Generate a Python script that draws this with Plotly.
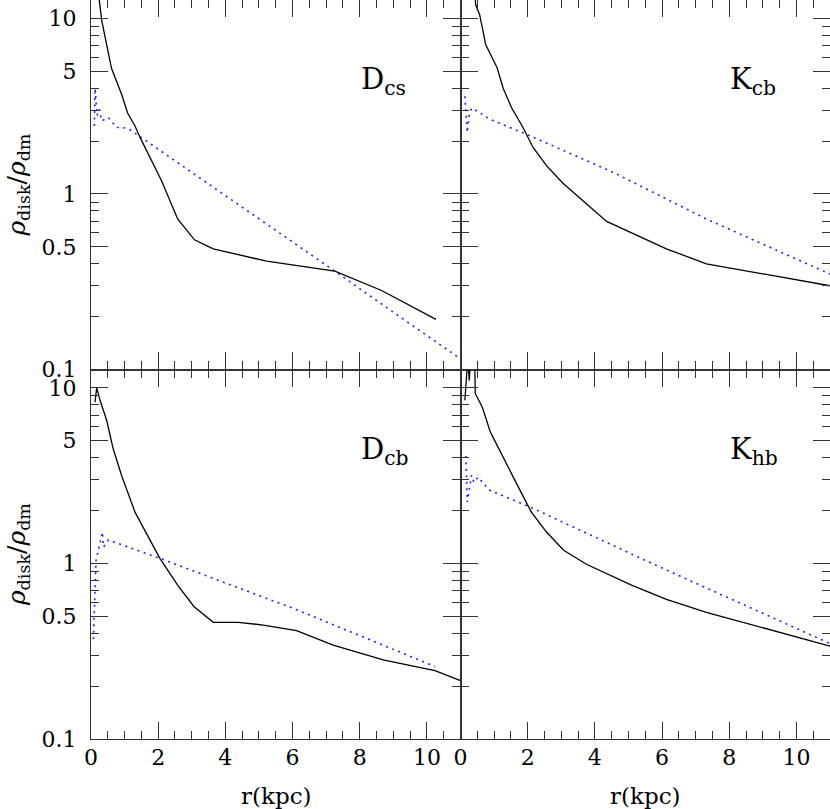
import numpy as np
import plotly.graph_objects as go
from plotly.subplots import make_subplots

# ---- data (r in kpc, rho_disk / rho_dm) ----
dcs_solid_r = [0.20, 0.32, 0.61, 0.76, 0.91, 1.09, 1.31, 1.46, 2.10, 2.58, 3.08, 3.64, 5.23, 7.26, 8.65, 10.27]
dcs_solid_v = [15.0, 9.7, 5.2, 4.4, 3.7, 2.89, 2.44, 2.10, 1.19, 0.72, 0.548, 0.487, 0.414, 0.363, 0.282, 0.193]
dcs_dot_r = [0.10, 0.12, 0.18, 0.25, 0.32, 0.52, 0.76, 0.91, 1.11, 3.0, 5.0, 7.26, 9.0, 11.0]
dcs_dot_v = [2.44, 4.0, 2.8, 3.04, 2.61, 2.72, 2.39, 2.39, 2.36, 1.33, 0.72, 0.363, 0.212, 0.115]

kcb_solid_r = [0.42, 0.45, 0.57, 0.75, 1.09, 1.27, 1.52, 1.86, 2.16, 2.56, 3.05, 3.65, 4.35, 6.13, 7.32, 11.0]
kcb_solid_v = [15.0, 12.0, 10.5, 7.1, 5.24, 4.0, 3.1, 2.39, 1.84, 1.45, 1.15, 0.908, 0.698, 0.487, 0.40, 0.30]
kcb_dot_r = [0.13, 0.20, 0.26, 0.33, 0.49, 0.87, 1.96, 4.54, 7.32, 11.0]
kcb_dot_v = [3.6, 2.24, 2.85, 3.08, 2.97, 2.67, 2.19, 1.33, 0.72, 0.35]

dcb_solid_r = [0.12, 0.17, 0.27, 0.47, 0.66, 0.91, 1.31, 2.05, 2.60, 3.07, 3.64, 4.38, 5.13, 6.12, 7.21, 8.70, 10.24, 11.0]
dcb_solid_v = [8.3, 10.0, 8.5, 6.5, 4.5, 3.17, 1.96, 1.07, 0.743, 0.567, 0.462, 0.462, 0.446, 0.414, 0.343, 0.282, 0.245, 0.215]
dcb_dot_r = [0.07, 0.15, 0.34, 0.37, 0.52, 2.05, 3.64, 6.02, 10.24]
dcb_dot_v = [0.37, 1.04, 1.51, 1.24, 1.36, 1.07, 0.822, 0.555, 0.259]

khb_solid_r = [0.13, 0.22, 0.26, 0.30, 0.42, 0.44, 0.65, 0.89, 1.67, 2.11, 2.56, 3.07, 3.75, 5.09, 6.13, 7.32, 11.0]
khb_solid_v = [8.5, 15.0, 11.0, 15.0, 15.0, 9.3, 7.76, 5.6, 2.85, 1.96, 1.51, 1.19, 0.99, 0.753, 0.624, 0.527, 0.338]
khb_dot_r = [0.16, 0.20, 0.33, 0.40, 0.52, 0.87, 2.06, 5.92, 11.0]
khb_dot_v = [4.1, 2.24, 3.18, 2.90, 3.10, 2.61, 2.10, 0.957, 0.35]

panels = [
    (1, 1, "D<sub>cs</sub>", dcs_solid_r, dcs_solid_v, dcs_dot_r, dcs_dot_v),
    (1, 2, "K<sub>cb</sub>", kcb_solid_r, kcb_solid_v, kcb_dot_r, kcb_dot_v),
    (2, 1, "D<sub>cb</sub>", dcb_solid_r, dcb_solid_v, dcb_dot_r, dcb_dot_v),
    (2, 2, "K<sub>hb</sub>", khb_solid_r, khb_solid_v, khb_dot_r, khb_dot_v),
]

x_major = [0, 2, 4, 6, 8, 10]
y_major = [0.1, 0.5, 1, 5, 10]
y_major_text = ["0.1", "0.5", "1", "5", "10"]
y_minor = [0.2, 0.3, 0.4, 0.6, 0.7, 0.8, 0.9, 2, 3, 4, 6, 7, 8, 9]

FONT = "DejaVu Serif"
AX_COLOR = "#333333"

fig = make_subplots(rows=2, cols=2, horizontal_spacing=0, vertical_spacing=0)

for row, col, label, sr, sv, dr, dv in panels:
    fig.add_trace(go.Scatter(x=dr, y=dv, mode="lines",
                             line=dict(color="#1f1fff", width=1.6, dash="2px,4.5px")),
                  row=row, col=col)
    fig.add_trace(go.Scatter(x=sr, y=sv, mode="lines",
                             line=dict(color="black", width=1.3)),
                  row=row, col=col)

    fig.update_xaxes(
        range=[0, 11], tickmode="array", tickvals=x_major,
        ticks="inside", ticklen=17, tickwidth=1.2, tickcolor=AX_COLOR,
        minor=dict(dtick=0.5, tick0=0, ticks="inside", ticklen=8, tickwidth=1.2, tickcolor=AX_COLOR),
        showline=True, linecolor=AX_COLOR, linewidth=1.1, mirror="allticks",
        showgrid=False, zeroline=False, showticklabels=(row == 2),
        automargin=False, ticklabelstandoff=-1,
        tickfont=dict(family=FONT, size=22, color="black"),
        row=row, col=col)
    fig.update_yaxes(
        type="log", range=[-1, 1.105], tickmode="array",
        tickvals=y_major, ticktext=y_major_text,
        ticks="inside", ticklen=17, tickwidth=1.2, tickcolor=AX_COLOR,
        minor=dict(tickmode="array", tickvals=y_minor, ticks="inside", ticklen=8,
                   tickwidth=1.2, tickcolor=AX_COLOR),
        showline=True, linecolor=AX_COLOR, linewidth=1.1, mirror="allticks",
        showgrid=False, zeroline=False, showticklabels=(col == 1),
        automargin=False, ticklabelstandoff=9,
        tickfont=dict(family=FONT, size=22, color="black"),
        row=row, col=col)

    idx = (row - 1) * 2 + col
    sfx = "" if idx == 1 else str(idx)
    fig.add_annotation(text=label, xref="x%s domain" % sfx, yref="y%s domain" % sfx,
                       x=0.725, y=0.78, xanchor="left", yanchor="middle",
                       showarrow=False, font=dict(family=FONT, size=29, color="black"))

# y-axis titles
for yc in [0.75, 0.25]:
    fig.add_annotation(text="<i>ρ</i><sub>disk</sub>/<i>ρ</i><sub>dm</sub>",
                       xref="paper", yref="paper", x=-0.099, y=yc,
                       xanchor="center", yanchor="middle", textangle=-90,
                       showarrow=False, font=dict(family=FONT, size=25, color="black"))

# x-axis titles
for xc in [0.25, 0.75]:
    fig.add_annotation(text="r(kpc)", xref="paper", yref="paper", x=xc, y=0,
                       yshift=-57, xanchor="center", yanchor="middle",
                       showarrow=False, font=dict(family=FONT, size=23, color="black"))

fig.update_layout(
    width=830, height=809,
    margin=dict(l=91, r=0, t=0, b=70),
    plot_bgcolor="white", paper_bgcolor="white",
    showlegend=False,
)

fig.write_html("out.html", config={"displayModeBar": False},
               post_script="document.body.style.margin='0px';")
